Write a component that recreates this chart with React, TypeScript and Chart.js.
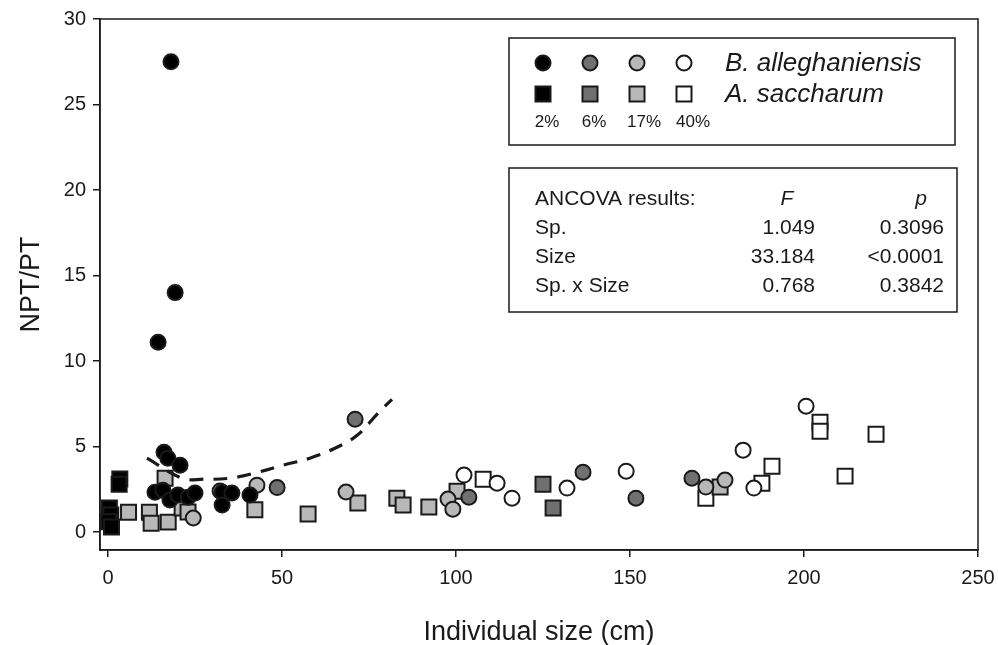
import React, { useEffect, useRef } from "react";
import { Chart, registerables } from "chart.js";
Chart.register(...registerables);

// ---- data (individual size in cm, NPT/PT) ----
const ba2X = [18.1, 19.3, 14.4, 16.1, 17.2, 20.7, 13.5, 15.8, 17.8, 20.1, 23.0, 25.0, 32.8, 35.6, 32.8, 40.8];
const ba2Y = [27.5, 14.0, 11.1, 4.67, 4.32, 3.91, 2.33, 2.45, 1.87, 2.16, 2.04, 2.28, 2.33, 2.28, 1.58, 2.16];
const ba6X = [48.6, 71.0, 103.7, 136.5, 151.7, 167.8];
const ba6Y = [2.6, 6.6, 2.04, 3.5, 1.98, 3.15];
const ba17X = [24.5, 32.2, 42.8, 68.4, 97.7, 99.1, 171.8, 177.3];
const ba17Y = [0.82, 2.4, 2.74, 2.34, 1.93, 1.34, 2.63, 3.04];
const ba40X = [102.3, 111.8, 116.1, 131.9, 148.9, 182.5, 185.6, 200.6];
const ba40Y = [3.33, 2.86, 1.98, 2.57, 3.56, 4.79, 2.57, 7.36];

const as2X = [0.4, 0.8, 0.2, 1.0, 3.4, 3.2];
const as2Y = [1.4, 1.0, 0.6, 0.3, 3.1, 2.8];
const as6X = [125.0, 127.9];
const as6Y = [2.8, 1.4];
const as17X = [5.9, 11.9, 12.4, 17.3, 16.4, 21.3, 23.0, 42.2, 57.5, 71.8, 83.0, 84.8, 92.2, 100.3, 175.9];
const as17Y = [1.16, 1.16, 0.52, 0.58, 3.15, 1.4, 1.17, 1.3, 1.05, 1.7, 1.98, 1.58, 1.46, 2.39, 2.63];
const as40X = [107.8, 171.8, 187.9, 190.8, 204.6, 204.6, 211.8, 220.7];
const as40Y = [3.09, 1.98, 2.86, 3.85, 6.42, 5.9, 3.27, 5.72];

const fitX = [11.2, 21.3, 27.6, 35.1, 43.1, 50.3, 58.0, 65.2, 71.6, 77.6, 81.6];
const fitY = [4.32, 3.15, 3.09, 3.15, 3.5, 3.91, 4.32, 4.9, 5.66, 6.95, 7.76];

const xTicks = [0, 50, 100, 150, 200, 250];
const yTicks = [0, 5, 10, 15, 20, 25, 30];
const lightLabels = ["2%", "6%", "17%", "40%"];
const lightFills = ["#000000", "#707070", "#b8b8b8", "#ffffff"];
const speciesNames = ["B. alleghaniensis", "A. saccharum"];
const ancovaRows = ["Sp.", "Size", "Sp. x Size"];
const ancovaF = ["1.049", "33.184", "0.768"];
const ancovaP = ["0.3096", "<0.0001", "0.3842"];

const INK = "#1a1a1a";
const SANS = "'Liberation Sans', Arial, Helvetica, sans-serif";

const pts = (xs: number[], ys: number[]) => xs.map((x, i) => ({ x, y: ys[i] }));

function drawMarker(ctx: CanvasRenderingContext2D, shape: string, x: number, y: number, fill: string) {
  ctx.save();
  ctx.fillStyle = fill;
  ctx.strokeStyle = INK;
  ctx.lineWidth = 2;
  ctx.beginPath();
  if (shape === "circle") ctx.arc(x, y, 7.5, 0, Math.PI * 2);
  else ctx.rect(x - 7.5, y - 7.5, 15, 15);
  ctx.fill();
  ctx.stroke();
  ctx.restore();
}

const framePlugin = {
  id: "frameAndBoxes",
  afterDraw(chart: any) {
    const { ctx, chartArea } = chart;
    ctx.save();
    ctx.strokeStyle = INK;
    ctx.lineWidth = 1.5;
    ctx.strokeRect(chartArea.left, chartArea.top, chartArea.right - chartArea.left, chartArea.bottom - chartArea.top);

    // legend box
    ctx.strokeRect(509, 38, 446, 107);
    const mx = [543, 590, 637, 684];
    const shapes = ["circle", "rect"];
    const rowY = [63, 94];
    for (let r = 0; r < 2; r++) {
      for (let i = 0; i < 4; i++) drawMarker(ctx, shapes[r], mx[i], rowY[r], lightFills[i]);
      ctx.fillStyle = INK;
      ctx.font = `italic 26px ${SANS}`;
      ctx.textAlign = "left";
      ctx.textBaseline = "middle";
      ctx.fillText(speciesNames[r], 725, rowY[r] + 1);
    }
    ctx.font = `17px ${SANS}`;
    ctx.textAlign = "center";
    const px = [547, 594, 644, 693];
    for (let i = 0; i < 4; i++) ctx.fillText(lightLabels[i], px[i], 122);

    // ANCOVA box
    ctx.strokeRect(509, 168, 448, 144);
    ctx.font = `21px ${SANS}`;
    ctx.textAlign = "left";
    ctx.fillText("ANCOVA results:", 535, 199);
    ctx.font = `italic 21px ${SANS}`;
    ctx.textAlign = "center";
    ctx.fillText("F", 787, 199);
    ctx.fillText("p", 921, 199);
    const ry = [228, 257, 286];
    for (let i = 0; i < 3; i++) {
      ctx.font = `21px ${SANS}`;
      ctx.textAlign = "left";
      ctx.fillText(ancovaRows[i], 535, ry[i]);
      ctx.textAlign = "right";
      ctx.fillText(ancovaF[i], 815, ry[i]);
      ctx.fillText(ancovaP[i], 944, ry[i]);
    }
    ctx.restore();
  },
};

export default function App() {
  const ref = useRef<HTMLCanvasElement | null>(null);
  useEffect(() => {
    document.body.style.margin = "0";
    const canvas = ref.current!;
    const sc = (fill: string, shape: string, xs: number[], ys: number[], label: string) => ({
      type: "scatter" as const,
      label,
      data: pts(xs, ys),
      pointStyle: shape,
      pointRadius: shape === "rect" ? 10.6 : 7.5,
      pointBackgroundColor: fill,
      pointBorderColor: INK,
      pointBorderWidth: 2,
      showLine: false,
    });
    const chart = new Chart(canvas, {
      type: "scatter",
      data: {
        datasets: [
          {
            type: "line" as const,
            label: "fit",
            data: pts(fitX, fitY),
            borderColor: INK,
            borderWidth: 3.2,
            borderDash: [14, 10],
            pointRadius: 0,
            tension: 0.4,
            fill: false,
          } as any,
          sc(lightFills[0], "circle", ba2X, ba2Y, "B. alleghaniensis 2%"),
          sc(lightFills[1], "circle", ba6X, ba6Y, "B. alleghaniensis 6%"),
          sc(lightFills[2], "circle", ba17X, ba17Y, "B. alleghaniensis 17%"),
          sc(lightFills[3], "circle", ba40X, ba40Y, "B. alleghaniensis 40%"),
          sc(lightFills[0], "rect", as2X, as2Y, "A. saccharum 2%"),
          sc(lightFills[1], "rect", as6X, as6Y, "A. saccharum 6%"),
          sc(lightFills[2], "rect", as17X, as17Y, "A. saccharum 17%"),
          sc(lightFills[3], "rect", as40X, as40Y, "A. saccharum 40%"),
        ],
      },
      options: {
        responsive: false,
        animation: false,
        layout: { padding: { left: 0, top: 18, right: 20, bottom: 0 } },
        plugins: { legend: { display: false }, tooltip: { enabled: false } },
        scales: {
          x: {
            type: "linear",
            min: -2.3,
            max: 250,
            afterBuildTicks: (s: any) => { s.ticks = xTicks.map((v) => ({ value: v })); },
            afterFit: (s: any) => { s.height = 95; s.paddingRight = 0; s.paddingLeft = 0; },
            grid: { display: true, drawOnChartArea: false, drawTicks: true, tickLength: 7, color: INK, lineWidth: 1.5 },
            border: { display: true, color: INK, width: 1.5 },
            ticks: { color: INK, font: { family: SANS, size: 20 }, padding: 9, maxRotation: 0 },
            title: {
              display: true,
              text: "Individual size (cm)",
              color: INK,
              font: { family: SANS, size: 27, lineHeight: 0.9 },
              padding: { top: 0, bottom: 0 },
            },
          },
          y: {
            type: "linear",
            min: -1.05,
            max: 30,
            afterBuildTicks: (s: any) => { s.ticks = yTicks.map((v) => ({ value: v })); },
            afterFit: (s: any) => { s.width = 100; },
            grid: { display: true, drawOnChartArea: false, drawTicks: true, tickLength: 7, color: INK, lineWidth: 1.5 },
            border: { display: true, color: INK, width: 1.5 },
            ticks: { color: INK, font: { family: SANS, size: 20 }, padding: 7 },
            title: {
              display: true,
              text: "NPT/PT",
              color: INK,
              font: { family: SANS, size: 27, lineHeight: 1.2 },
              padding: { top: 15, bottom: 0 },
            },
          },
        },
      } as any,
      plugins: [framePlugin],
    });
    return () => chart.destroy();
  }, []);
  return <canvas ref={ref} width={998} height={645} style={{ display: "block", width: 998, height: 645 }} />;
}
